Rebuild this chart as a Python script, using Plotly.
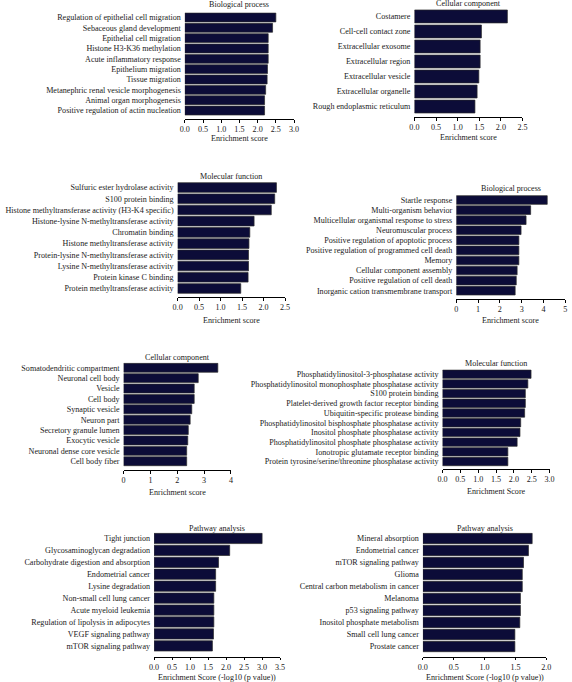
import plotly.graph_objects as go

W, H = 572, 682
FONT = "Liberation Serif"
BAR = "#0c0c38"
TXT = "#1a1a1a"
FS = 8.1

# ---------------- data ----------------
bp1_terms = ["Regulation of epithelial cell migration", "Sebaceous gland development",
             "Epithelial cell migration", "Histone H3-K36 methylation",
             "Acute inflammatory response", "Epithelium migration", "Tissue migration",
             "Metanephric renal vesicle morphogenesis", "Animal organ morphogenesis",
             "Positive regulation of actin nucleation"]
bp1_vals = [2.50, 2.41, 2.29, 2.29, 2.29, 2.27, 2.26, 2.22, 2.19, 2.19]

cc1_terms = ["Costamere", "Cell-cell contact zone", "Extracellular exosome",
             "Extracellular region", "Extracellular vesicle", "Extracellular organelle",
             "Rough endoplasmic reticulum"]
cc1_vals = [2.15, 1.55, 1.52, 1.52, 1.49, 1.45, 1.40]

mf1_terms = ["Sulfuric ester hydrolase activity", "S100 protein binding",
             "Histone methyltransferase activity (H3-K4 specific)",
             "Histone-lysine N-methyltransferase activity", "Chromatin binding",
             "Histone methyltransferase activity", "Protein-lysine N-methyltransferase activity",
             "Lysine N-methyltransferase activity", "Protein kinase C binding",
             "Protein methyltransferase activity"]
mf1_vals = [2.30, 2.26, 2.18, 1.78, 1.68, 1.66, 1.65, 1.65, 1.64, 1.47]

bp2_terms = ["Startle response", "Multi-organism behavior",
             "Multicellular organismal response to stress", "Neuromuscular process",
             "Positive regulation of apoptotic process",
             "Positive regulation of programmed cell death", "Memory",
             "Cellular component assembly", "Positive regulation of cell death",
             "Inorganic cation transmembrane transport"]
bp2_vals = [4.17, 3.41, 3.20, 2.97, 2.87, 2.87, 2.87, 2.79, 2.75, 2.70]

cc2_terms = ["Somatodendritic compartment", "Neuronal cell body", "Vesicle", "Cell body",
             "Synaptic vesicle", "Neuron part", "Secretory granule lumen", "Exocytic vesicle",
             "Neuronal dense core vesicle", "Cell body fiber"]
cc2_vals = [3.51, 2.78, 2.63, 2.63, 2.54, 2.48, 2.41, 2.39, 2.35, 2.35]

mf2_terms = ["Phosphatidylinositol-3-phosphatase activity",
             "Phosphatidylinositol monophosphate phosphatase activity",
             "S100 protein binding", "Platelet-derived growth factor receptor binding",
             "Ubiquitin-specific protease binding",
             "Phosphatidylinositol bisphosphate phosphatase activity",
             "Inositol phosphate phosphatase activity",
             "Phosphatidylinositol phosphate phosphatase activity",
             "Ionotropic glutamate receptor binding",
             "Protein tyrosine/serine/threonine phosphatase activity"]
mf2_vals = [2.48, 2.39, 2.32, 2.32, 2.30, 2.19, 2.17, 2.09, 1.83, 1.83]

pw1_terms = ["Tight junction", "Glycosaminoglycan degradation",
             "Carbohydrate digestion and absorption", "Endometrial cancer",
             "Lysine degradation", "Non-small cell lung cancer", "Acute myeloid leukemia",
             "Regulation of lipolysis in adipocytes", "VEGF signaling pathway",
             "mTOR signaling pathway"]
pw1_vals = [3.00, 2.10, 1.79, 1.71, 1.71, 1.66, 1.66, 1.66, 1.65, 1.62]

pw2_terms = ["Mineral absorption", "Endometrial cancer", "mTOR signaling pathway", "Glioma",
             "Central carbon metabolism in cancer", "Melanoma", "p53 signaling pathway",
             "Inositol phosphate metabolism", "Small cell lung cancer", "Prostate cancer"]
pw2_vals = [1.77, 1.71, 1.63, 1.61, 1.61, 1.58, 1.58, 1.57, 1.49, 1.49]

panel_titles = ["Biological process", "Cellular component", "Molecular function",
                "Biological process", "Cellular component", "Molecular function",
                "Pathway analysis", "Pathway analysis"]
axis_titles = ["Enrichment score", "Enrichment score", "Enrichment score",
               "Enrichment score", "Enrichment score", "Enrichment Score",
               "Enrichment Score (-log10 (p value))", "Enrichment Score (-log10 (p value))"]
x_max = [3.0, 2.5, 2.5, 5, 4, 3.0, 3.5, 2.0]
x_step = [0.5, 0.5, 0.5, 1, 1, 0.5, 0.5, 0.5]

series = [(bp1_terms, bp1_vals), (cc1_terms, cc1_vals), (mf1_terms, mf1_vals),
          (bp2_terms, bp2_vals), (cc2_terms, cc2_vals), (mf2_terms, mf2_vals),
          (pw1_terms, pw1_vals), (pw2_terms, pw2_vals)]

# ---------------- layout geometry (pixels) ----------------
# x0, x1 (plot left/right), bar top, bar bottom, axis line y, title y, axis-title y
geom = [
    (183.0, 294.2, 13.0, 115.0, 119.0, 5.0, 138.0),
    (416.7, 526.7, 10.0, 113.0, 117.0, 4.0, 137.0),
    (175.7, 285.0, 182.7, 293.3, 297.0, 176.0, 320.5),
    (459.3, 570.3, 195.7, 295.0, 299.0, 189.0, 320.5),
    (120.7, 230.0, 363.3, 465.7, 470.0, 357.0, 492.5),
    (445.3, 554.3, 370.0, 465.7, 469.0, 363.0, 491.5),
    (151.7, 280.0, 533.3, 651.0, 656.7, 528.0, 677.0),
    (425.3, 551.0, 533.3, 651.7, 656.7, 528.0, 677.0),
]

BARGAP = 0.14
fig = go.Figure()
annotations = []
layout_axes = {}

for i, ((terms, vals), (x0, x1, top, bot, axy, ty, aty)) in enumerate(zip(series, geom)):
    k = "" if i == 0 else str(i + 1)
    n = len(terms)
    slot = (bot - top) / (n - BARGAP)
    dtop = top - slot * BARGAP / 2
    pad = (axy - bot - slot * BARGAP / 2) / slot
    fig.add_trace(go.Bar(
        x=vals, y=terms, orientation="h",
        marker=dict(color=BAR, line=dict(color="#2a2a2a", width=0.7)),
        xaxis="x" + k, yaxis="y" + k, showlegend=False, hoverinfo="x+y"))
    step = x_step[i]
    tickvals = [round(j * step, 2) for j in range(int(round(x_max[i] / step)) + 1)]
    ticktext = [("%.1f" % v) if step < 1 else str(int(v)) for v in tickvals]
    layout_axes["xaxis" + k] = dict(
        domain=[x0 / W, x1 / W], anchor="y" + k, range=[0, x_max[i]],
        tickvals=tickvals, ticktext=ticktext, ticks="outside", ticklen=2.5,
        tickwidth=1, tickcolor="black", showline=True, linecolor="black", linewidth=1,
        showgrid=False, zeroline=False, fixedrange=True,
        tickfont=dict(family=FONT, size=FS, color=TXT))
    layout_axes["yaxis" + k] = dict(
        domain=[1 - axy / H, 1 - dtop / H], anchor="x" + k,
        range=[n - 0.5 + pad, -0.5], type="category", showline=False, ticks="",
        tickmode="array", tickvals=terms, ticktext=terms, ticklabelstandoff=3,
        showgrid=False, zeroline=False, fixedrange=True,
        tickfont=dict(family=FONT, size=FS, color=TXT))
    annotations.append(dict(text=panel_titles[i], x=(x0 + x1) / 2 / W, y=1 - ty / H,
                            xref="paper", yref="paper", showarrow=False,
                            xanchor="center", yanchor="middle",
                            font=dict(family=FONT, size=FS, color=TXT)))
    annotations.append(dict(text=axis_titles[i], x=(x0 + x1) / 2 / W, y=1 - aty / H,
                            xref="paper", yref="paper", showarrow=False,
                            xanchor="center", yanchor="middle",
                            font=dict(family=FONT, size=FS, color=TXT)))

fig.update_layout(
    width=W, height=H, margin=dict(l=0, r=0, t=0, b=0),
    paper_bgcolor="white", plot_bgcolor="white", bargap=BARGAP,
    annotations=annotations, **layout_axes)

fig.write_html("out.html", config={"displayModeBar": False},
               post_script="document.body.style.margin='0';document.body.style.padding='0';")
